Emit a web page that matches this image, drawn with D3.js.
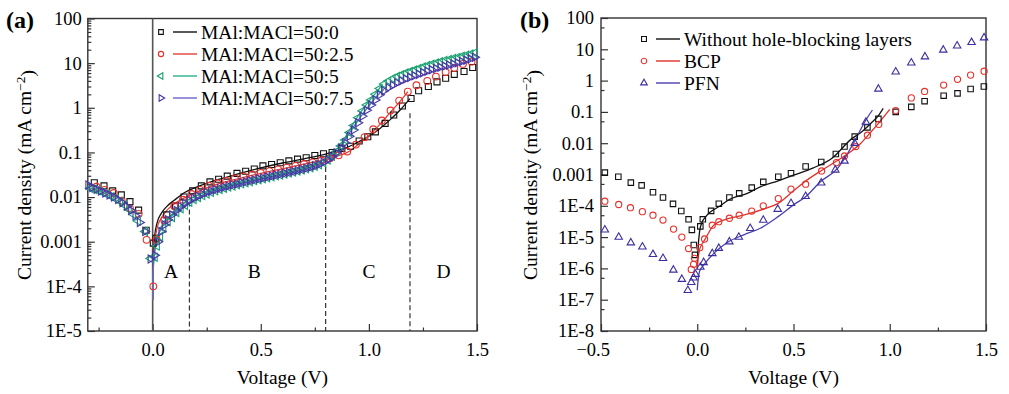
<!DOCTYPE html>
<html>
<head>
<meta charset="utf-8">
<script src="https://cdnjs.cloudflare.com/ajax/libs/d3/7.8.5/d3.min.js"></script>
<style>
  body { margin: 0; background: #fff; }
  svg { display: block; font-family: "Liberation Serif", "Times New Roman", serif; }
</style>
</head>
<body>
<div class="chart"></div>
<script>
const w = 1009;
const h = 394;

// ---- panel (a) data: voltage (V) and current density (mA cm-2) ----
const aBlackV = [-0.27, -0.225, -0.185, -0.145, -0.105, -0.065, -0.03, 0.003, 0.015, 0.065, 0.105, 0.145, 0.185, 0.225, 0.265, 0.305, 0.345, 0.39, 0.43, 0.47, 0.51, 0.55, 0.59, 0.63, 0.67, 0.71, 0.75, 0.79, 0.83, 0.875, 0.915, 0.955, 0.995, 1.03, 1.075, 1.115, 1.155, 1.195, 1.23, 1.275, 1.315, 1.355, 1.395, 1.44, 1.48];
const aBlackJ = [0.021, 0.0178, 0.0138, 0.0112, 0.0079, 0.0051, 0.0018, 0.00093, 0.0012, 0.004, 0.0063, 0.01, 0.0138, 0.0178, 0.0219, 0.0251, 0.0295, 0.0339, 0.038, 0.0427, 0.05, 0.0537, 0.0589, 0.0646, 0.0708, 0.0759, 0.0851, 0.0933, 0.1, 0.123, 0.138, 0.18, 0.224, 0.288, 0.447, 0.69, 1.1, 1.62, 2.4, 3.0, 3.8, 4.6, 5.6, 6.5, 8.0];
const aBlackFitV = [0, 0.003, 0.01, 0.02, 0.04, 0.07, 0.1, 0.15, 0.2, 0.3, 0.4, 0.5, 0.6, 0.7, 0.8, 0.85, 0.9, 0.95, 1.0, 1.05, 1.1, 1.15, 1.19];
const aBlackFitJ = [5e-5, 4e-4, 1.4e-3, 2.6e-3, 4.3e-3, 6.5e-3, 8.5e-3, 0.0128, 0.0165, 0.0245, 0.0335, 0.045, 0.058, 0.072, 0.092, 0.108, 0.13, 0.17, 0.23, 0.34, 0.55, 0.95, 1.6];

const aRedV = [-0.26, -0.222, -0.18, -0.143, -0.105, -0.065, -0.028, 0.003, 0.018, 0.054, 0.1, 0.14, 0.18, 0.22, 0.26, 0.3, 0.34, 0.38, 0.42, 0.46, 0.5, 0.54, 0.58, 0.62, 0.66, 0.7, 0.74, 0.78, 0.82, 0.86, 0.9, 0.94, 0.98, 1.02, 1.06, 1.1, 1.14, 1.18, 1.22, 1.27, 1.31, 1.355, 1.395, 1.435, 1.475];
const aRedJ = [0.017, 0.0145, 0.0123, 0.0083, 0.0056, 0.0042, 0.0011, 0.0001, 0.00112, 0.003, 0.0063, 0.0087, 0.0117, 0.0145, 0.0178, 0.0204, 0.023, 0.0263, 0.029, 0.0316, 0.0347, 0.038, 0.0417, 0.0457, 0.05, 0.055, 0.06, 0.066, 0.074, 0.086, 0.105, 0.15, 0.22, 0.33, 0.52, 0.87, 1.45, 2.3, 3.2, 4.0, 5.0, 6.3, 7.8, 9.6, 10.8];
const aRedFitV = [0, 0.003, 0.01, 0.02, 0.04, 0.07, 0.1, 0.15, 0.2, 0.3, 0.4, 0.5, 0.6, 0.7, 0.8, 0.85, 0.9, 0.95, 1.0, 1.05, 1.1, 1.15, 1.18];
const aRedFitJ = [5e-5, 3e-4, 1e-3, 2e-3, 3.4e-3, 5.3e-3, 7e-3, 0.0098, 0.0128, 0.0195, 0.026, 0.034, 0.043, 0.055, 0.07, 0.082, 0.1, 0.15, 0.24, 0.42, 0.8, 1.5, 2.3];

const aGreenV = [-0.29, -0.27, -0.25, -0.23, -0.21, -0.19, -0.17, -0.15, -0.13, -0.11, -0.09, -0.068, -0.035, -0.01, 0.01, 0.02, 0.035, 0.05, 0.07, 0.09, 0.11, 0.13, 0.15, 0.17, 0.19, 0.21, 0.23, 0.25, 0.27, 0.29, 0.31, 0.33, 0.35, 0.37, 0.39, 0.41, 0.43, 0.45, 0.47, 0.49, 0.51, 0.53, 0.55, 0.57, 0.59, 0.61, 0.63, 0.65, 0.67, 0.69, 0.71, 0.73, 0.75, 0.77, 0.79, 0.81, 0.83, 0.85, 0.87, 0.89, 0.91, 0.93, 0.95, 0.97, 0.99, 1.01, 1.03, 1.05, 1.07, 1.09, 1.11, 1.13, 1.15, 1.17, 1.19, 1.21, 1.23, 1.25, 1.27, 1.29, 1.31, 1.33, 1.35, 1.37, 1.39, 1.41, 1.43, 1.45, 1.47, 1.49];
const aGreenJ = [0.0158, 0.0148, 0.0138, 0.0126, 0.0115, 0.0102, 0.0091, 0.0079, 0.0066, 0.0053, 0.0041, 0.0029, 0.0017, 0.00042, 0.00045, 0.0008, 0.0013, 0.002, 0.0028, 0.0035, 0.0045, 0.0055, 0.0066, 0.0077, 0.0088, 0.0098, 0.0108, 0.0118, 0.0128, 0.0138, 0.0148, 0.0158, 0.0168, 0.0178, 0.0188, 0.0198, 0.021, 0.0222, 0.0234, 0.0246, 0.0258, 0.0271, 0.0285, 0.0299, 0.0314, 0.033, 0.0347, 0.0365, 0.0385, 0.0407, 0.043, 0.0457, 0.0488, 0.053, 0.059, 0.068, 0.082, 0.105, 0.14, 0.19, 0.28, 0.4, 0.6, 0.85, 1.15, 1.5, 2.0, 2.7, 3.4, 4.0, 4.5, 5.0, 5.5, 6.0, 6.5, 7.0, 7.6, 8.2, 8.8, 9.4, 10.0, 10.7, 11.4, 12.0, 12.7, 13.4, 14.2, 15.0, 15.9, 17.0];
const aGreenFitV = [0, 0.003, 0.01, 0.02, 0.04, 0.07, 0.1, 0.15, 0.2, 0.3, 0.4, 0.5, 0.6, 0.7, 0.75, 0.8, 0.85, 0.9, 0.95, 1.0, 1.04, 1.06];
const aGreenFitJ = [5e-5, 2.5e-4, 6e-4, 1.1e-3, 2.0e-3, 3.1e-3, 4.2e-3, 6.3e-3, 8.5e-3, 0.0148, 0.0198, 0.0252, 0.032, 0.042, 0.049, 0.064, 0.1, 0.26, 0.65, 1.4, 2.4, 3.2];

const aPurpleV = [-0.298, -0.28, -0.26, -0.24, -0.22, -0.2, -0.18, -0.16, -0.14, -0.12, -0.1, -0.08, -0.06, -0.035, -0.01, 0.01, 0.025, 0.04, 0.055, 0.07, 0.09, 0.11, 0.13, 0.15, 0.17, 0.19, 0.21, 0.23, 0.25, 0.27, 0.29, 0.31, 0.33, 0.35, 0.37, 0.39, 0.41, 0.43, 0.45, 0.47, 0.49, 0.51, 0.53, 0.55, 0.57, 0.59, 0.61, 0.63, 0.65, 0.67, 0.69, 0.71, 0.73, 0.75, 0.77, 0.79, 0.81, 0.83, 0.85, 0.87, 0.89, 0.91, 0.93, 0.95, 0.97, 0.99, 1.01, 1.03, 1.05, 1.07, 1.09, 1.11, 1.13, 1.15, 1.17, 1.19, 1.21, 1.23, 1.25, 1.27, 1.29, 1.31, 1.33, 1.35, 1.37, 1.39, 1.41, 1.43, 1.45, 1.47, 1.49];
const aPurpleJ = [0.0185, 0.0165, 0.015, 0.0137, 0.0124, 0.0112, 0.01, 0.0088, 0.0075, 0.0062, 0.005, 0.0038, 0.0027, 0.0017, 0.00041, 0.0005, 0.001, 0.0017, 0.0024, 0.0031, 0.004, 0.005, 0.0061, 0.0072, 0.0083, 0.0094, 0.0104, 0.0115, 0.0126, 0.0136, 0.0146, 0.0156, 0.0166, 0.0177, 0.0187, 0.0197, 0.0208, 0.022, 0.0232, 0.0244, 0.0256, 0.0268, 0.0281, 0.0295, 0.031, 0.0325, 0.034, 0.0357, 0.0375, 0.0395, 0.0417, 0.044, 0.0468, 0.05, 0.054, 0.06, 0.068, 0.08, 0.098, 0.125, 0.165, 0.23, 0.32, 0.46, 0.65, 0.88, 1.15, 1.5, 1.95, 2.4, 2.8, 3.2, 3.6, 4.0, 4.4, 4.8, 5.2, 5.6, 6.1, 6.6, 7.1, 7.6, 8.1, 8.6, 9.1, 9.6, 10.2, 10.9, 11.7, 12.5, 13.6];
const aPurpleFitV = [0, 0.003, 0.01, 0.02, 0.04, 0.07, 0.1, 0.15, 0.2, 0.3, 0.4, 0.5, 0.6, 0.7, 0.75, 0.8, 0.85, 0.9, 0.95, 1.0, 1.04, 1.07];
const aPurpleFitJ = [5e-5, 2.8e-4, 7e-4, 1.2e-3, 2.1e-3, 3.3e-3, 4.5e-3, 6.7e-3, 9e-3, 0.0152, 0.0202, 0.0258, 0.0328, 0.043, 0.05, 0.065, 0.098, 0.23, 0.52, 1.1, 1.9, 2.6];

const aLegend = ["MAl:MACl=50:0", "MAl:MACl=50:2.5", "MAl:MACl=50:5", "MAl:MACl=50:7.5"];
const aRegionLabels = ["A", "B", "C", "D"];
const aRegionV = [0.085, 0.47, 1.0, 1.345];
const aRegionJ = 2.2e-4;
const aDividerV = [0.17, 0.8, 1.19];
const aDividerTopJ = [0.008, 0.047, 0.75];

// ---- panel (b) data ----
const bBlackV = [-0.48, -0.41, -0.345, -0.289, -0.23, -0.178, -0.126, -0.083, -0.045, -0.028, -0.018, -0.012, 0.016, 0.029, 0.072, 0.112, 0.167, 0.218, 0.283, 0.343, 0.421, 0.487, 0.563, 0.644, 0.72, 0.765, 0.818, 0.884, 0.941, 1.031, 1.112, 1.181, 1.28, 1.352, 1.42, 1.489];
const bBlackJ = [1.15e-3, 8.5e-4, 5.5e-4, 4.5e-4, 2.7e-4, 1.85e-4, 1.15e-4, 6.8e-5, 3.7e-5, 1.7e-5, 5.6e-6, 2.7e-6, 2.2e-5, 3.7e-5, 6.9e-5, 1.17e-4, 1.85e-4, 2.5e-4, 3.8e-4, 5.8e-4, 8.5e-4, 1.1e-3, 1.8e-3, 2.5e-3, 4.5e-3, 7.8e-3, 0.0162, 0.032, 0.06, 0.1, 0.145, 0.22, 0.33, 0.39, 0.54, 0.65];
const bBlackFitV = [0, 0.004, 0.012, 0.025, 0.04, 0.07, 0.12, 0.16, 0.26, 0.33, 0.42, 0.5, 0.6, 0.7, 0.8, 0.85, 0.9, 0.94, 0.966];
const bBlackFitJ = [1e-6, 4e-6, 1.5e-5, 3e-5, 4.2e-5, 6.5e-5, 1e-4, 1.5e-4, 2.5e-4, 4.1e-4, 6.3e-4, 9.5e-4, 1.6e-3, 3.3e-3, 0.0135, 0.022, 0.042, 0.075, 0.13];

const bRedV = [-0.48, -0.408, -0.347, -0.285, -0.23, -0.178, -0.123, -0.08, -0.045, -0.031, -0.019, -0.014, 0.013, 0.038, 0.078, 0.112, 0.167, 0.218, 0.283, 0.343, 0.421, 0.487, 0.563, 0.646, 0.723, 0.765, 0.824, 0.884, 0.943, 1.031, 1.112, 1.181, 1.28, 1.352, 1.42, 1.49];
const bRedJ = [1.4e-4, 1.1e-4, 8.7e-5, 6.5e-5, 5e-5, 3.5e-5, 1.8e-5, 1e-5, 4.3e-6, 9.3e-7, 1.35e-6, 2.1e-6, 4.6e-6, 8.7e-6, 2.4e-5, 3.1e-5, 4e-5, 5e-5, 6.8e-5, 1e-4, 1.7e-4, 3.4e-4, 4.9e-4, 1.3e-3, 2.4e-3, 3.9e-3, 7.8e-3, 0.018, 0.04, 0.11, 0.28, 0.45, 0.72, 1.1, 1.5, 2.0];
const bRedFitV = [0, 0.004, 0.012, 0.025, 0.04, 0.06, 0.08, 0.11, 0.16, 0.25, 0.35, 0.42, 0.5, 0.56, 0.65, 0.72, 0.8, 0.85, 0.9, 0.95, 1.0];
const bRedFitJ = [1e-6, 2e-6, 3.9e-6, 6e-6, 8.5e-6, 1.4e-5, 2.2e-5, 3e-5, 3.9e-5, 5.2e-5, 8e-5, 1.2e-4, 3e-4, 6e-4, 1.4e-3, 2.6e-3, 5.5e-3, 0.01, 0.022, 0.05, 0.12];

const bBlueV = [-0.48, -0.408, -0.345, -0.285, -0.23, -0.178, -0.124, -0.08, -0.049, -0.031, -0.019, -0.009, 0.016, 0.033, 0.078, 0.112, 0.167, 0.216, 0.275, 0.343, 0.418, 0.487, 0.563, 0.644, 0.717, 0.765, 0.818, 0.876, 0.941, 1.031, 1.112, 1.183, 1.278, 1.35, 1.425, 1.49];
const bBlueJ = [1.7e-5, 1.0e-5, 6.6e-6, 4.9e-6, 2.8e-6, 2.1e-6, 8.9e-7, 4.5e-7, 2.0e-7, 3.6e-7, 5e-7, 6.5e-7, 1.1e-6, 1.55e-6, 3e-6, 4.4e-6, 7.1e-6, 1.0e-5, 1.9e-5, 3.5e-5, 7.8e-5, 1.2e-4, 2.0e-4, 5.4e-4, 1.4e-3, 2.7e-3, 0.01, 0.047, 0.54, 1.9, 3.7, 5.8, 9.5, 12.9, 16.6, 23.4];
const bBlueFitV = [0, 0.004, 0.012, 0.025, 0.04, 0.09, 0.16, 0.245, 0.33, 0.42, 0.5, 0.565, 0.64, 0.73, 0.765, 0.815, 0.876, 0.91];
const bBlueFitJ = [2e-7, 4e-7, 8e-7, 1.1e-6, 1.45e-6, 3.2e-6, 7e-6, 1.2e-5, 1.95e-5, 4.5e-5, 1.07e-4, 2e-4, 5.9e-4, 1.6e-3, 3.2e-3, 0.011, 0.055, 0.115];

const bLegend = ["Without hole-blocking layers", "BCP", "PFN"];

// tick values
const aXMajor = [0, 0.5, 1.0, 1.5];
const aXMinor = [-0.25, 0.25, 0.75, 1.25];
const bXMajor = [-0.5, 0, 0.5, 1.0, 1.5];
const bXMinor = [-0.25, 0.25, 0.75, 1.25];

const svg = d3
  .select(".chart")
  .append("svg")
  .attr("width", w)
  .attr("height", h);

svg.append("rect").attr("width", w).attr("height", h).attr("fill", "#fff");

const axisColor = "#333";

const decadeLabel = (v) => {
  const e = Math.round(Math.log10(v));
  if (e >= 0) return String(Math.pow(10, e));
  if (e >= -3) return "0." + "0".repeat(-e - 1) + "1";
  return "1E" + e;
};

const symbolPath = (type, size) => {
  if (type === "circle") return d3.symbol(d3.symbolCircle, size)();
  if (type === "square") return d3.symbol(d3.symbolSquare, size)();
  return d3.symbol(d3.symbolTriangle, size * 0.8)();
};
const symbolRotate = (type) =>
  type === "triLeft" ? -90 : type === "triRight" ? 90 : 0;

function drawPanel(p) {
  const x = d3.scaleLinear().domain(p.xDomain).range(p.xRange);
  const y = d3.scaleLog().domain(p.yDomain).range(p.yRange);
  const g = svg.append("g");

  // minor y ticks
  const minors = [];
  const e0 = Math.round(Math.log10(p.yDomain[0]));
  const e1 = Math.round(Math.log10(p.yDomain[1]));
  for (let e = e0; e < e1; e++) {
    p.yMinorMult.forEach((m) => minors.push(m * Math.pow(10, e)));
  }
  const majors = d3.range(e0, e1 + 1).map((e) => Math.pow(10, e));

  g.append("g")
    .attr("transform", `translate(${p.xRange[0]},0)`)
    .call(d3.axisLeft(y).tickValues(minors).tickFormat("").tickSize(-3.5))
    .call((a) => a.select(".domain").remove());

  g.append("g")
    .attr("class", "y-axis")
    .attr("transform", `translate(${p.xRange[0]},0)`)
    .call(d3.axisLeft(y).tickValues(majors).tickFormat(decadeLabel).tickSize(-7).tickPadding(p.yPad))
    .call((a) => a.select(".domain").remove());

  g.append("g")
    .attr("transform", `translate(0,${p.yRange[0]})`)
    .call(d3.axisBottom(x).tickValues(p.xMinor).tickFormat("").tickSize(-3.5))
    .call((a) => a.select(".domain").remove());

  g.append("g")
    .attr("class", "x-axis")
    .attr("transform", `translate(0,${p.yRange[0]})`)
    .call(d3.axisBottom(x).tickValues(p.xMajor).tickFormat(d3.format(".1f")).tickSize(-7).tickPadding(12))
    .call((a) => a.select(".domain").remove())
    // minus sign hangs left of the tick, as in the original
    .call((a) => a.selectAll(".tick text").filter((d) => d < 0).attr("dx", "-0.45em"));

  g.selectAll(".tick line").attr("stroke", axisColor).attr("stroke-width", 1.2);
  g.selectAll(".tick text")
    .attr("font-family", "Liberation Serif, Times New Roman, serif")
    .attr("font-size", 18.5)
    .attr("fill", "#000");

  // frame
  g.append("rect")
    .attr("x", p.xRange[0])
    .attr("y", p.yRange[1])
    .attr("width", p.xRange[1] - p.xRange[0])
    .attr("height", p.yRange[0] - p.yRange[1])
    .attr("fill", "none")
    .attr("stroke", axisColor)
    .attr("stroke-width", 1.4);

  if (p.extra) p.extra(g, x, y);

  // fit lines
  const line = d3
    .line()
    .x((d) => x(d[0]))
    .y((d) => y(d[1]))
    .curve(d3.curveMonotoneX);

  p.series.forEach((s) => {
    g.append("path")
      .datum(d3.zip(s.fitV, s.fitJ))
      .attr("d", line)
      .attr("fill", "none")
      .attr("stroke", s.lineColor)
      .attr("stroke-width", 1.3);
  });

  // markers
  p.series.forEach((s) => {
    g.selectAll(null)
      .data(d3.zip(s.v, s.j))
      .enter()
      .append("path")
      .attr("d", symbolPath(s.symbol, p.markerSize))
      .attr("transform", (d) => `translate(${x(d[0])},${y(d[1])}) rotate(${symbolRotate(s.symbol)})`)
      .attr("fill", "none")
      .attr("stroke", s.color)
      .attr("stroke-width", 1.1);
  });

  // legend
  p.series.forEach((s, i) => {
    const ly = p.legend.y + i * p.legend.dy;
    g.append("path")
      .attr("d", symbolPath(s.symbol, p.legend.markerSize))
      .attr("transform", `translate(${p.legend.x},${ly}) rotate(${symbolRotate(s.symbol)})`)
      .attr("fill", "none")
      .attr("stroke", s.color)
      .attr("stroke-width", 1.1);
    g.append("line")
      .attr("x1", p.legend.x + 12)
      .attr("x2", p.legend.x + 36)
      .attr("y1", ly)
      .attr("y2", ly)
      .attr("stroke", s.lineColor)
      .attr("stroke-width", 1.4);
    g.append("text")
      .attr("x", p.legend.x + 40)
      .attr("y", ly)
      .attr("dy", "0.34em")
      .attr("font-size", 19.5)
      .text(s.name);
  });

  // axis titles
  const cx = (p.xRange[0] + p.xRange[1]) / 2;
  g.append("text")
    .attr("x", cx)
    .attr("y", 384)
    .attr("text-anchor", "middle")
    .attr("font-size", 19.5)
    .text("Voltage (V)");

  const yt = g
    .append("text")
    .attr("transform", `translate(${p.yTitleX},175) rotate(-90)`)
    .attr("text-anchor", "middle")
    .attr("font-size", 19.5);
  yt.append("tspan").text("Current density (mA cm");
  yt.append("tspan").attr("dy", "-0.45em").attr("font-size", 13.5).text("\u22122");
  yt.append("tspan").attr("dy", "0.45em").text(")");

  g.append("text")
    .attr("x", p.tag.x)
    .attr("y", 28)
    .attr("font-size", 24)
    .attr("font-weight", "bold")
    .text(p.tag.text);
}

drawPanel({
  xDomain: [-0.3, 1.5],
  xRange: [87.8, 477],
  yDomain: [1e-5, 100],
  yRange: [331, 18.5],
  yMinorMult: [2, 3, 4, 5, 6, 7, 8, 9],
  yPad: 6,
  xMajor: aXMajor,
  xMinor: aXMinor,
  markerSize: 36,
  yTitleX: 31,
  tag: { x: 6, text: "(a)" },
  legend: { x: 161, y: 32, dy: 22, markerSize: 22 },
  series: [
    { name: aLegend[0], v: aBlackV, j: aBlackJ, fitV: aBlackFitV, fitJ: aBlackFitJ, symbol: "square", color: "#111", lineColor: "#111" },
    { name: aLegend[1], v: aRedV, j: aRedJ, fitV: aRedFitV, fitJ: aRedFitJ, symbol: "circle", color: "#e8302a", lineColor: "#e04038" },
    { name: aLegend[2], v: aGreenV, j: aGreenJ, fitV: aGreenFitV, fitJ: aGreenFitJ, symbol: "triLeft", color: "#18a070", lineColor: "#2cb088" },
    { name: aLegend[3], v: aPurpleV, j: aPurpleJ, fitV: aPurpleFitV, fitJ: aPurpleFitJ, symbol: "triRight", color: "#4636a6", lineColor: "#6e62c6" },
  ],
  extra: (g, x, y) => {
    // zero line
    g.append("line")
      .attr("x1", x(0))
      .attr("x2", x(0))
      .attr("y1", y(100))
      .attr("y2", y(1e-5))
      .attr("stroke", "#555")
      .attr("stroke-width", 1.6);
    // region dividers
    aDividerV.forEach((v, i) => {
      g.append("line")
        .attr("x1", x(v))
        .attr("x2", x(v))
        .attr("y1", y(aDividerTopJ[i]))
        .attr("y2", y(1e-5))
        .attr("stroke", "#333")
        .attr("stroke-width", 1.2)
        .attr("stroke-dasharray", "5,3");
    });
    aRegionLabels.forEach((t, i) => {
      g.append("text")
        .attr("x", x(aRegionV[i]))
        .attr("y", y(aRegionJ))
        .attr("dy", "0.35em")
        .attr("text-anchor", "middle")
        .attr("font-size", 19.5)
        .text(t);
    });
  },
});

drawPanel({
  xDomain: [-0.5, 1.5],
  xRange: [601, 986],
  yDomain: [1e-8, 100],
  yRange: [331, 18],
  yMinorMult: [5],
  yPad: 7,
  xMajor: bXMajor,
  xMinor: bXMinor,
  markerSize: 30,
  yTitleX: 537,
  tag: { x: 520, text: "(b)" },
  legend: { x: 644, y: 39, dy: 22, markerSize: 24 },
  series: [
    { name: bLegend[0], v: bBlackV, j: bBlackJ, fitV: bBlackFitV, fitJ: bBlackFitJ, symbol: "square", color: "#111", lineColor: "#111" },
    { name: bLegend[1], v: bRedV, j: bRedJ, fitV: bRedFitV, fitJ: bRedFitJ, symbol: "circle", color: "#e8302a", lineColor: "#e0302a" },
    { name: bLegend[2], v: bBlueV, j: bBlueJ, fitV: bBlueFitV, fitJ: bBlueFitJ, symbol: "triUp", color: "#3b2fa0", lineColor: "#4a40b0" },
  ],
});
</script>
</body>
</html>
